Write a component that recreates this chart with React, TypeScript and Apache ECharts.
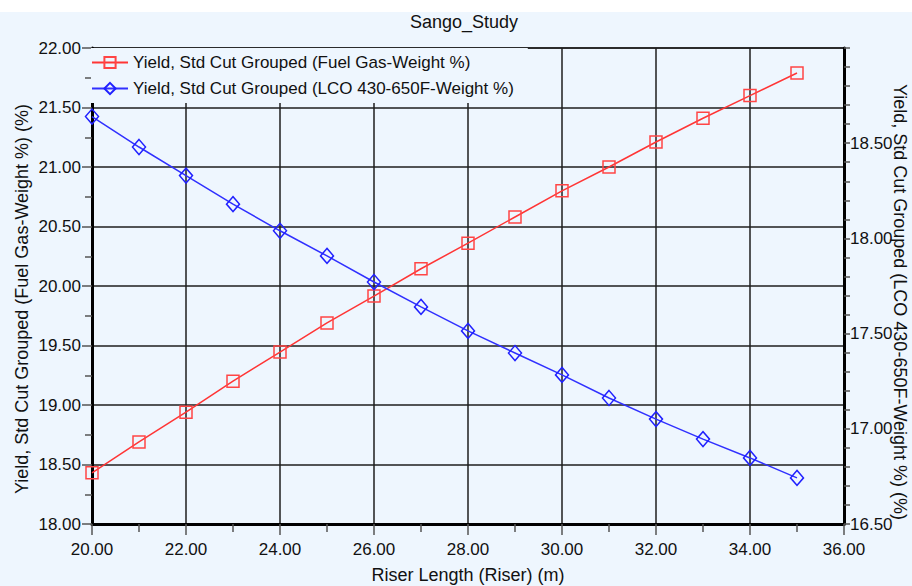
import React, { useEffect, useRef } from "react";
import * as echarts from "echarts";

const riserLength: number[] = [20, 21, 22, 23, 24, 25, 26, 27, 28, 29, 30, 31, 32, 33, 34, 35];
const fuelGasYield: number[] = [18.43, 18.69, 18.94, 19.2, 19.445, 19.69, 19.915, 20.145, 20.36, 20.58, 20.8, 21.0, 21.21, 21.41, 21.6, 21.79];
const lcoYield: number[] = [18.64, 18.48, 18.33, 18.18, 18.04, 17.908, 17.771, 17.64, 17.514, 17.398, 17.283, 17.162, 17.051, 16.946, 16.847, 16.742];

const titleText = "Sango_Study";
const xName = "Riser Length (Riser) (m)";
const leftName = "Yield, Std Cut Grouped (Fuel Gas-Weight %) (%)";
const rightName = "Yield, Std Cut Grouped (LCO 430-650F-Weight %) (%)";
const fuelName = "Yield, Std Cut Grouped (Fuel Gas-Weight %)";
const lcoName = "Yield, Std Cut Grouped (LCO 430-650F-Weight %)";

const FONT = "Liberation Sans, Arial, sans-serif";
const FS = 17;
const NAME_FS = 18;
const BG = "#EEF6FE";
const RED = "#FF3535";
const BLUE = "#3030FF";

export default function App() {
  const ref = useRef<HTMLDivElement>(null);
  useEffect(() => {
    document.body.style.margin = "0";
    const chart = echarts.init(ref.current!, null, { renderer: "svg" });
    const fmt = (v: number) => v.toFixed(2);
    const gridLine = { show: true, lineStyle: { color: "rgba(30,30,30,0.75)", width: 2 } };
    const tickStyle = { color: "#555", width: 1.5 };
    const nameStyle = { fill: "#111", fontSize: NAME_FS, fontFamily: FONT, align: "center", verticalAlign: "middle" };
    chart.setOption({
      animation: false,
      backgroundColor: BG,
      textStyle: { fontFamily: FONT },
      title: {
        text: titleText,
        left: 410,
        top: 13,
        padding: 0,
        textStyle: { fontSize: 18, fontWeight: "normal", color: "#111", fontFamily: FONT },
      },
      graphic: [
        { type: "rect", left: 0, top: 0, z: -1, shape: { width: 912, height: 12 }, style: { fill: "#ffffff" } },
        { type: "text", x: 22, y: 299, rotation: Math.PI / 2, style: { text: leftName, ...nameStyle } },
        { type: "text", x: 900, y: 302, rotation: -Math.PI / 2, style: { text: rightName, ...nameStyle } },
      ],
      grid: {
        left: 92,
        right: 68,
        top: 48,
        bottom: 62,
        containLabel: false,
        outerBoundsMode: "none",
        show: true,
        borderColor: "#222",
        borderWidth: 1.5,
        backgroundColor: "transparent",
      },
      legend: {
        orient: "vertical",
        left: 91,
        top: 48,
        padding: [6, 14, 6, 0],
        itemGap: 9,
        itemWidth: 36,
        itemHeight: 14,
        backgroundColor: BG,
        textStyle: { fontSize: FS, lineHeight: 17, color: "#111", fontFamily: FONT },
        data: [fuelName, lcoName],
      },
      xAxis: {
        type: "value",
        min: 20,
        max: 36,
        interval: 2,
        name: xName,
        nameLocation: "middle",
        nameGap: 42,
        nameTextStyle: { fontSize: NAME_FS, color: "#111", fontFamily: FONT },
        axisLine: { show: true, onZero: false, lineStyle: { color: "#000", width: 3 } },
        axisTick: { show: true, length: 11, lineStyle: tickStyle },
        minorTick: { show: true, splitNumber: 2, length: 8, lineStyle: tickStyle },
        axisLabel: { formatter: fmt, fontSize: FS, color: "#111", margin: 17, fontFamily: FONT },
        splitLine: gridLine,
      },
      yAxis: [
        {
          type: "value",
          position: "left",
          min: 18,
          max: 22,
          interval: 0.5,
          axisLine: { show: true, onZero: false, lineStyle: { color: "#000", width: 3 } },
          axisTick: { show: true, length: 10, lineStyle: tickStyle },
          minorTick: { show: true, splitNumber: 2, length: 7, lineStyle: tickStyle },
          axisLabel: { formatter: fmt, fontSize: FS, color: "#111", margin: 11, fontFamily: FONT },
          splitLine: gridLine,
        },
        {
          type: "value",
          position: "right",
          min: 16.5,
          max: 19,
          interval: 0.5,
          axisLine: { show: true, onZero: false, lineStyle: { color: "#000", width: 3 } },
          axisTick: { show: true, length: 6, lineStyle: tickStyle },
          minorTick: { show: true, splitNumber: 5, length: 6, lineStyle: tickStyle },
          axisLabel: { formatter: fmt, fontSize: FS, color: "#111", margin: 6, showMaxLabel: false, fontFamily: FONT },
          splitLine: { show: false },
        },
      ],
      series: [
        {
          name: fuelName,
          type: "line",
          yAxisIndex: 0,
          data: riserLength.map((x, i) => [x, fuelGasYield[i]]),
          symbol: "rect",
          symbolSize: 12,
          showAllSymbol: true,
          lineStyle: { color: RED, width: 1.5 },
          itemStyle: { color: "rgba(255,255,255,0)", borderColor: "#FF4545", borderWidth: 1.5 },
          z: 3,
        },
        {
          name: lcoName,
          type: "line",
          yAxisIndex: 1,
          data: riserLength.map((x, i) => [x, lcoYield[i]]),
          symbol: "diamond",
          symbolSize: [13, 15],
          showAllSymbol: true,
          lineStyle: { color: BLUE, width: 1.5 },
          itemStyle: { color: "rgba(255,255,255,0)", borderColor: "#2020FF", borderWidth: 1.5 },
          z: 3,
        },
      ],
    });
    return () => chart.dispose();
  }, []);
  return <div ref={ref} style={{ width: 912, height: 586 }} />;
}
